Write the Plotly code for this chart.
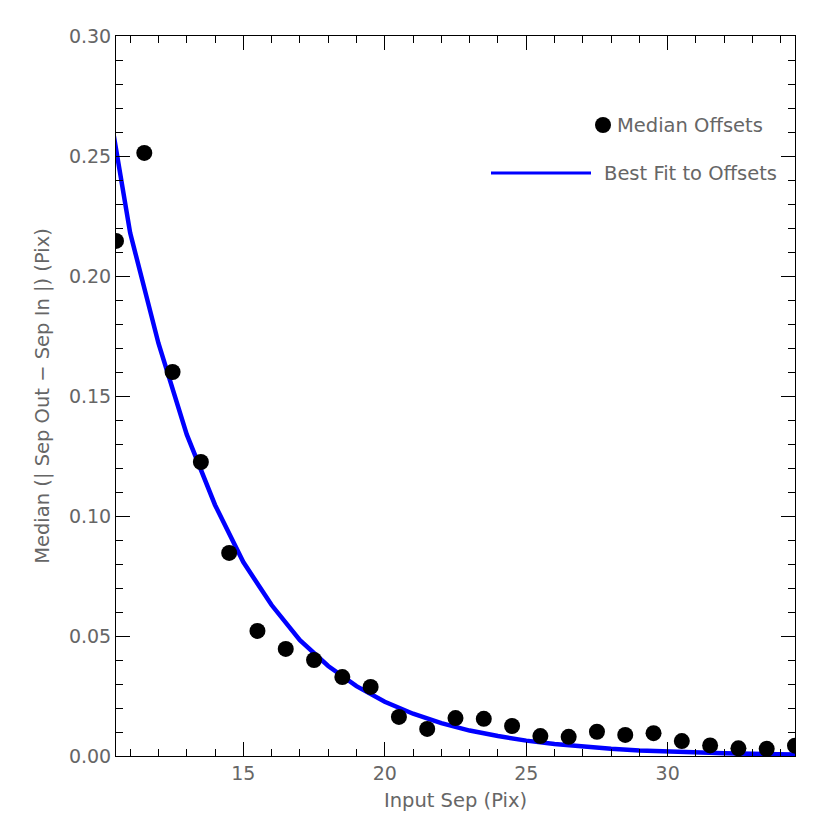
import plotly.graph_objects as go

sep_in = [10.5, 11.5, 12.5, 13.5, 14.5, 15.5, 16.5, 17.5, 18.5, 19.5, 20.5, 21.5, 22.5,
          23.5, 24.5, 25.5, 26.5, 27.5, 28.5, 29.5, 30.5, 31.5, 32.5, 33.5, 34.5]
median_off = [0.2146, 0.2513, 0.1600, 0.1225, 0.0846, 0.0521, 0.0446, 0.0400, 0.0329,
              0.0288, 0.0163, 0.0113, 0.0158, 0.0155, 0.0125, 0.0083, 0.0080, 0.0101,
              0.0088, 0.0095, 0.0062, 0.0044, 0.0032, 0.0030, 0.0043]

# best-fit curve as drawn (sampled at whole pixels)
fit_x = [10, 11, 12, 13, 14, 15, 16, 17, 18, 19, 20, 21, 22, 23, 24, 25, 26,
         27, 28, 29, 30, 31, 32, 33, 34, 35]
fit_y = [0.2880, 0.2180, 0.1720, 0.1340, 0.1046, 0.0808, 0.0629, 0.0483, 0.0375,
         0.0291, 0.0226, 0.0176, 0.0137, 0.0106, 0.0083, 0.0064, 0.0050, 0.0039,
         0.0030, 0.0023, 0.0018, 0.0014, 0.0011, 0.0009, 0.0007, 0.0005]

font = "DejaVu Sans"
grey = "#666666"

fig = go.Figure()
fig.add_trace(go.Scatter(x=fit_x, y=fit_y, mode="lines",
                         line=dict(color="#0000ff", width=4.5),
                         name="Best Fit to Offsets"))
fig.add_trace(go.Scatter(x=sep_in, y=median_off, mode="markers",
                         marker=dict(color="black", size=16),
                         name="Median Offsets"))

axis_common = dict(
    showgrid=False, zeroline=False, showline=True, linecolor="black", linewidth=1,
    mirror="ticks", ticks="inside", tickcolor="black", ticklen=14, tickwidth=1,
    tickfont=dict(family=font, size=19, color=grey),
)

fig.update_xaxes(
    range=[10.5, 34.5], tick0=0, dtick=5,
    minor=dict(dtick=1, ticks="inside", ticklen=7, tickcolor="black"),
    title=dict(text="Input Sep (Pix)", font=dict(family=font, size=19.5, color=grey), standoff=10),
    **axis_common,
)
fig.update_yaxes(
    range=[0, 0.30], tick0=0, dtick=0.05, tickformat=".2f",
    minor=dict(dtick=0.01, ticks="inside", ticklen=7, tickcolor="black"),
    title=dict(text="Median (| Sep Out \u2212 Sep In |) (Pix)",
               font=dict(family=font, size=19.5, color=grey), standoff=14),
    **axis_common,
)

# hand-placed legend like the original
fig.add_shape(type="circle", xref="paper", yref="paper",
              x0=(595 - 116) / 679, x1=(611 - 116) / 679,
              y0=(756 - 133) / 720, y1=(756 - 117) / 720,
              fillcolor="black", line=dict(color="black", width=0))
fig.add_annotation(text="Median Offsets", xref="paper", yref="paper",
                   x=(615 - 116) / 679, y=(756 - 125) / 720, xanchor="left", yanchor="middle",
                   showarrow=False, font=dict(family=font, size=19.5, color=grey))
fig.add_shape(type="line", xref="paper", yref="paper",
              x0=(491 - 116) / 679, x1=(591 - 116) / 679,
              y0=(756 - 173) / 720, y1=(756 - 173) / 720,
              line=dict(color="#0000ff", width=3))
fig.add_annotation(text="Best Fit to Offsets", xref="paper", yref="paper",
                   x=(602 - 116) / 679, y=(756 - 173) / 720, xanchor="left", yanchor="middle",
                   showarrow=False, font=dict(family=font, size=19.5, color=grey))

# page body adds ~8px offset; margins compensate so the plot box lands where the original has it
fig.update_layout(
    width=830, height=830, showlegend=False,
    plot_bgcolor="white", paper_bgcolor="white",
    margin=dict(l=108, r=43, t=28, b=82),
)

fig.write_html("out.html")
